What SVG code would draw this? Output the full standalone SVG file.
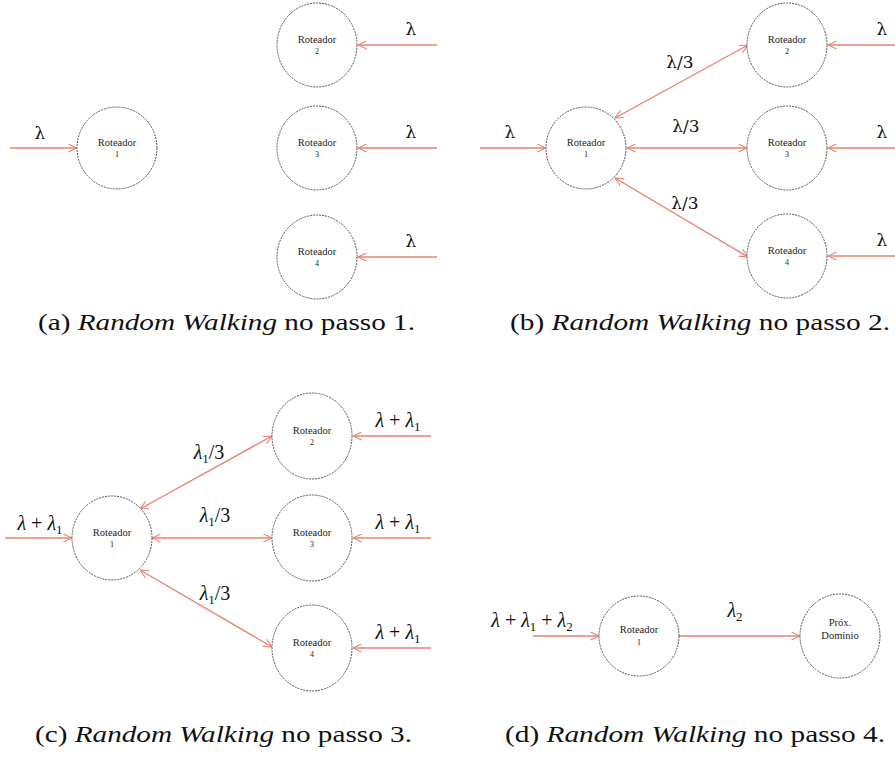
<svg xmlns="http://www.w3.org/2000/svg" width="895" height="757" viewBox="0 0 895 757">
<defs>
<marker id="ah" viewBox="0 0 10 10" refX="9.5" refY="5" markerWidth="9" markerHeight="9" markerUnits="userSpaceOnUse" orient="auto-start-reverse">
<path d="M0,0.5 L9.5,5 L0,9.5" fill="none" stroke="#e8836f" stroke-width="1.2"/>
</marker>
</defs>

<g id="connectors" stroke="#e8836f" stroke-width="1.4" fill="none" marker-end="url(#ah)">
<line x1="10" y1="148" x2="77" y2="148"/>
<line x1="437" y1="45" x2="358" y2="45"/>
<line x1="437" y1="148" x2="358" y2="148"/>
<line x1="437" y1="257" x2="358" y2="257"/>
<line x1="480" y1="148" x2="546" y2="148"/>
<line x1="615" y1="118" x2="748" y2="45" marker-start="url(#ah)"/>
<line x1="627" y1="148" x2="747" y2="148" marker-start="url(#ah)"/>
<line x1="615" y1="178" x2="748" y2="257" marker-start="url(#ah)"/>
<line x1="895" y1="45" x2="828" y2="45"/>
<line x1="895" y1="148" x2="828" y2="148"/>
<line x1="895" y1="256" x2="828" y2="256"/>
<line x1="5" y1="538" x2="72" y2="538"/>
<line x1="140" y1="509" x2="272" y2="436" marker-start="url(#ah)"/>
<line x1="152" y1="538" x2="272" y2="538" marker-start="url(#ah)"/>
<line x1="140" y1="570" x2="272" y2="647" marker-start="url(#ah)"/>
<line x1="431" y1="436" x2="353" y2="436"/>
<line x1="431" y1="538" x2="353" y2="538"/>
<line x1="431" y1="648" x2="353" y2="648"/>
<line x1="533" y1="636" x2="599" y2="636"/>
<line x1="679" y1="636" x2="800" y2="636"/>
</g>

<g id="labels" fill="#111" text-anchor="middle" font-family="DejaVu Serif" font-size="17">
<text x="40" y="139">λ</text>
<text x="411" y="35">λ</text>
<text x="411" y="138">λ</text>
<text x="411" y="247">λ</text>
<text x="510" y="138">λ</text>
<text x="882" y="35">λ</text>
<text x="882" y="138">λ</text>
<text x="882" y="246">λ</text>
<text x="680" y="68">λ/3</text>
<text x="686" y="132">λ/3</text>
<text x="685" y="209">λ/3</text>
</g>

<g id="math-labels" fill="#111" text-anchor="middle" font-family="Liberation Serif" font-size="20">
<text x="40" y="530"><tspan font-style="italic">λ</tspan> + <tspan font-style="italic">λ</tspan><tspan font-size="13" dy="4">1</tspan></text>
<text x="209" y="459"><tspan font-style="italic">λ</tspan><tspan font-size="13" dy="4">1</tspan><tspan dy="-4">/3</tspan></text>
<text x="215" y="522"><tspan font-style="italic">λ</tspan><tspan font-size="13" dy="4">1</tspan><tspan dy="-4">/3</tspan></text>
<text x="215" y="600"><tspan font-style="italic">λ</tspan><tspan font-size="13" dy="4">1</tspan><tspan dy="-4">/3</tspan></text>
<text x="398" y="427"><tspan font-style="italic">λ</tspan> + <tspan font-style="italic">λ</tspan><tspan font-size="13" dy="4">1</tspan></text>
<text x="398" y="529"><tspan font-style="italic">λ</tspan> + <tspan font-style="italic">λ</tspan><tspan font-size="13" dy="4">1</tspan></text>
<text x="398" y="639"><tspan font-style="italic">λ</tspan> + <tspan font-style="italic">λ</tspan><tspan font-size="13" dy="4">1</tspan></text>
<text x="532" y="627"><tspan font-style="italic">λ</tspan> + <tspan font-style="italic">λ</tspan><tspan font-size="13" dy="4">1</tspan><tspan dy="-4"> + </tspan><tspan font-style="italic">λ</tspan><tspan font-size="13" dy="4">2</tspan></text>
<text x="735" y="617"><tspan font-style="italic">λ</tspan><tspan font-size="13" dy="4">2</tspan></text>
</g>

<g id="nodes" fill="#222" text-anchor="middle" font-family="Liberation Serif" font-size="10.5">
<g id="a-n1"><ellipse cx="117" cy="148" rx="40" ry="41" fill="#fff" stroke="#555" stroke-dasharray="2 1"/><text x="117" y="146">Roteador</text><text x="117" y="157" font-size="8">1</text></g>
<g id="a-n2"><ellipse cx="317" cy="45" rx="40" ry="42" fill="#fff" stroke="#555" stroke-dasharray="2 1"/><text x="317" y="43">Roteador</text><text x="317" y="54" font-size="8">2</text></g>
<g id="a-n3"><ellipse cx="317" cy="148" rx="40" ry="42" fill="#fff" stroke="#555" stroke-dasharray="2 1"/><text x="317" y="146">Roteador</text><text x="317" y="157" font-size="8">3</text></g>
<g id="a-n4"><ellipse cx="317" cy="257" rx="40" ry="42" fill="#fff" stroke="#555" stroke-dasharray="2 1"/><text x="317" y="255">Roteador</text><text x="317" y="266" font-size="8">4</text></g>

<g id="b-n1"><ellipse cx="586" cy="148" rx="40" ry="41" fill="#fff" stroke="#555" stroke-dasharray="2 1"/><text x="586" y="146">Roteador</text><text x="586" y="157" font-size="8">1</text></g>
<g id="b-n2"><ellipse cx="787" cy="45" rx="40" ry="42" fill="#fff" stroke="#555" stroke-dasharray="2 1"/><text x="787" y="43">Roteador</text><text x="787" y="54" font-size="8">2</text></g>
<g id="b-n3"><ellipse cx="787" cy="148" rx="40" ry="42" fill="#fff" stroke="#555" stroke-dasharray="2 1"/><text x="787" y="146">Roteador</text><text x="787" y="157" font-size="8">3</text></g>
<g id="b-n4"><ellipse cx="787" cy="256" rx="40" ry="42" fill="#fff" stroke="#555" stroke-dasharray="2 1"/><text x="787" y="254">Roteador</text><text x="787" y="265" font-size="8">4</text></g>

<g id="c-n1"><ellipse cx="112" cy="538" rx="40" ry="42" fill="#fff" stroke="#555" stroke-dasharray="2 1"/><text x="112" y="536">Roteador</text><text x="112" y="547" font-size="8">1</text></g>
<g id="c-n2"><ellipse cx="312" cy="436" rx="40" ry="43" fill="#fff" stroke="#555" stroke-dasharray="2 1"/><text x="312" y="434">Roteador</text><text x="312" y="445" font-size="8">2</text></g>
<g id="c-n3"><ellipse cx="312" cy="538" rx="40" ry="43" fill="#fff" stroke="#555" stroke-dasharray="2 1"/><text x="312" y="536">Roteador</text><text x="312" y="547" font-size="8">3</text></g>
<g id="c-n4"><ellipse cx="312" cy="648" rx="40" ry="43" fill="#fff" stroke="#555" stroke-dasharray="2 1"/><text x="312" y="646">Roteador</text><text x="312" y="657" font-size="8">4</text></g>

<g id="d-n1"><ellipse cx="639" cy="636" rx="40" ry="40" fill="#fff" stroke="#555" stroke-dasharray="2 1"/><text x="639" y="633">Roteador</text><text x="639" y="645" font-size="8">1</text></g>
<g id="d-n2"><ellipse cx="840" cy="636" rx="40" ry="42" fill="#fff" stroke="#555" stroke-dasharray="2 1"/><text x="840" y="626">Próx.</text><text x="840" y="639">Domínio</text></g>
</g>

<g id="captions" fill="#111" font-family="Liberation Serif" font-size="24">
<text x="38" y="330" textLength="377" lengthAdjust="spacingAndGlyphs">(a) <tspan font-style="italic">Random Walking</tspan> no passo 1.</text>
<text x="510" y="330" textLength="380" lengthAdjust="spacingAndGlyphs">(b) <tspan font-style="italic">Random Walking</tspan> no passo 2.</text>
<text x="35" y="742" textLength="377" lengthAdjust="spacingAndGlyphs">(c) <tspan font-style="italic">Random Walking</tspan> no passo 3.</text>
<text x="505" y="742" textLength="380" lengthAdjust="spacingAndGlyphs">(d) <tspan font-style="italic">Random Walking</tspan> no passo 4.</text>
</g>
</svg>
